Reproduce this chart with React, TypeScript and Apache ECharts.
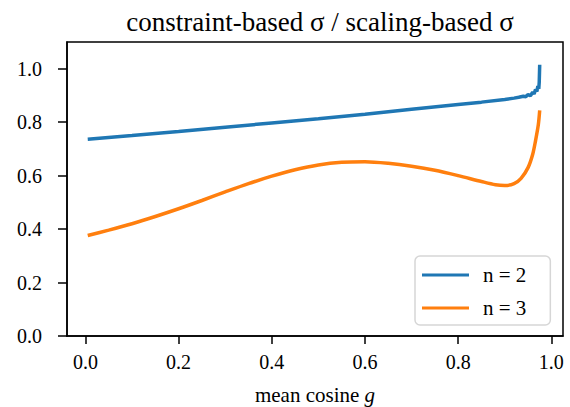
import React, { useEffect, useRef } from "react";
import * as echarts from "echarts";

const xTicks = [0, 0.2, 0.4, 0.6, 0.8, 1.0];
const yTicks = [0, 0.2, 0.4, 0.6, 0.8, 1.0];

const seriesNames = ["n = 2", "n = 3"];

const gN2 = [0.005, 0.1, 0.2, 0.3, 0.4, 0.5, 0.6, 0.7, 0.8, 0.85, 0.9, 0.92, 0.93, 0.94, 0.945, 0.95, 0.955, 0.96, 0.963, 0.966, 0.969, 0.971, 0.973, 0.974, 0.975];
const vN2 = [0.736, 0.75, 0.765, 0.781, 0.797, 0.813, 0.83, 0.848, 0.866, 0.875, 0.885, 0.89, 0.893, 0.897, 0.895, 0.903, 0.899, 0.912, 0.906, 0.922, 0.915, 0.935, 0.925, 0.95, 1.015];

const gN3 = [0.005, 0.05, 0.1, 0.15, 0.2, 0.25, 0.3, 0.35, 0.4, 0.45, 0.5, 0.55, 0.6, 0.65, 0.7, 0.75, 0.8, 0.85, 0.88, 0.9, 0.92, 0.935, 0.95, 0.96, 0.966, 0.972, 0.975];
const vN3 = [0.376, 0.396, 0.42, 0.447, 0.476, 0.507, 0.539, 0.57, 0.598, 0.622, 0.64, 0.65, 0.652, 0.646, 0.635, 0.62, 0.6, 0.578, 0.566, 0.563, 0.57, 0.59, 0.63, 0.68, 0.73, 0.79, 0.844];

const FONT = "'Liberation Serif', 'Times New Roman', serif";

export default function App() {
  const ref = useRef<HTMLDivElement>(null);
  useEffect(() => {
    if (!ref.current) return;
    const chart = echarts.init(ref.current, null, { renderer: "svg" });
    const pair = (g: number[], v: number[]) => g.map((x, i) => [x, v[i]]);
    chart.setOption({
      animation: false,
      backgroundColor: "#ffffff",
      textStyle: { fontFamily: FONT, color: "#000" },
      title: {
        text: "constraint-based σ / scaling-based σ",
        left: 315,
        textAlign: "center",
        top: 3,
        textStyle: { fontFamily: FONT, fontSize: 27, fontWeight: "normal", color: "#000" },
      },
      grid: {
        left: 67,
        right: 7,
        top: 42,
        bottom: 71,
        containLabel: false,
        outerBoundsMode: "none",
        show: true,
        borderColor: "#000",
        borderWidth: 1.5,
        backgroundColor: "transparent",
      },
      legend: {
        orient: "vertical",
        left: 415,
        top: 256,
        padding: [8, 24, 6, 7],
        itemWidth: 47,
        itemHeight: 3,
        itemGap: 11,
        icon: "rect",
        backgroundColor: "#fff",
        borderColor: "#d6d6d6",
        borderWidth: 1.5,
        borderRadius: 5,
        textStyle: { fontFamily: FONT, fontSize: 21, lineHeight: 22, color: "#000", padding: [0, 0, 0, 9] },
        data: seriesNames,
      },
      xAxis: {
        type: "value",
        min: -0.0395,
        max: 1.025,
        splitLine: { show: false },
        axisLine: { show: true, onZero: false, lineStyle: { color: "#000", width: 1.5 } },
        axisTick: { show: true, length: 8, lineStyle: { color: "#000", width: 1.5 }, customValues: xTicks },
        axisLabel: {
          customValues: xTicks,
          formatter: (v: number) => v.toFixed(1),
          fontFamily: FONT,
          fontSize: 20,
          color: "#000",
          margin: 16,
        },
        name: "{a|mean cosine }{b|g}",
        nameLocation: "middle",
        nameGap: 48,
        nameTextStyle: {
          fontFamily: FONT,
          fontSize: 21,
          color: "#000",
          rich: {
            a: { fontFamily: FONT, fontSize: 21, color: "#000" },
            b: { fontFamily: FONT, fontSize: 21, color: "#000", fontStyle: "italic" },
          },
        },
      },
      yAxis: {
        type: "value",
        min: 0,
        max: 1.1,
        splitLine: { show: false },
        axisLine: { show: true, onZero: false, lineStyle: { color: "#000", width: 1.5 } },
        axisTick: { show: true, length: 9, lineStyle: { color: "#000", width: 1.5 }, customValues: yTicks },
        axisLabel: {
          customValues: yTicks,
          formatter: (v: number) => v.toFixed(1),
          fontFamily: FONT,
          fontSize: 20,
          color: "#000",
          margin: 25,
        },
      },
      series: [
        {
          name: seriesNames[0],
          type: "line",
          data: pair(gN2, vN2),
          showSymbol: false,
          symbol: "none",
          color: "#1f77b4",
          lineStyle: { color: "#1f77b4", width: 3.5 },
        },
        {
          name: seriesNames[1],
          type: "line",
          data: pair(gN3, vN3),
          showSymbol: false,
          symbol: "none",
          smooth: 0.3,
          color: "#ff7f0e",
          lineStyle: { color: "#ff7f0e", width: 3.5 },
        },
      ],
    });
    return () => chart.dispose();
  }, []);
  return <div ref={ref} style={{ width: 570, height: 407, position: "absolute", left: 0, top: 0 }} />;
}
